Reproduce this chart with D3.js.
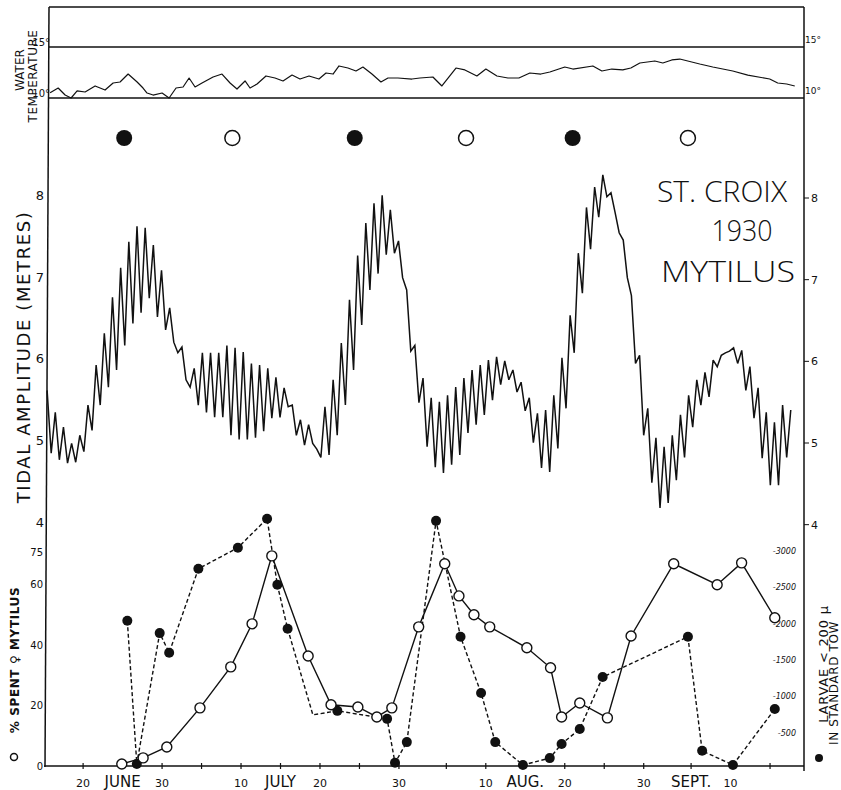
<!DOCTYPE html>
<html><head><meta charset="utf-8">
<script src="https://cdn.jsdelivr.net/npm/d3@7"></script>
<style>
body{margin:0;background:#fff}
svg{display:block}
text{font-family:"DejaVu Sans","Liberation Sans",sans-serif;fill:#111}
</style>
</head><body>
<svg id="c" width="841" height="790"></svg>
<script>
// ---------- DATA (days counted from 31 May 1930: June d = d, July d = 30+d, Aug d = 61+d, Sept d = 92+d)
const tempDay=[15.82,16.84,17.72,18.48,19.24,20.25,21.52,22.78,23.80,24.68,25.70,26.84,27.59,28.10,28.86,30.00,30.89,31.77,32.66,33.42,34.18,35.06,36.46,37.59,38.61,39.49,40.51,41.14,42.03,43.16,44.30,45.32,46.46,47.47,48.61,49.87,50.76,51.65,52.41,53.54,54.56,55.44,56.58,57.72,58.61,59.87,61.65,62.66,64.30,65.44,67.22,68.35,69.87,71.01,72.41,73.80,75.19,76.58,77.97,79.11,81.01,82.03,84.56,85.70,86.96,88.35,89.37,90.51,92.41,93.42,94.56,95.57,96.58,98.10,99.75,102.28,104.18,106.96,107.97,109.11,110.13];
const tempC=[10.52,10.98,10.29,10.00,10.69,10.59,11.18,10.78,11.47,11.57,12.35,11.57,10.98,10.49,10.29,10.49,10.00,10.98,11.08,11.96,11.08,11.47,12.06,12.35,11.47,10.88,11.67,10.98,11.37,12.16,11.96,11.67,12.25,11.86,12.16,11.86,12.45,12.35,13.14,12.94,12.65,13.04,12.35,11.57,11.96,11.96,11.86,11.96,12.06,11.18,12.94,12.75,12.16,12.84,12.16,11.96,11.96,12.45,12.35,12.55,13.04,12.84,13.14,12.65,12.84,12.75,12.94,13.43,13.63,13.43,13.73,13.82,13.63,13.33,13.04,12.65,12.25,11.86,11.47,11.37,11.18];

// tidal amplitude, one value per tide (every half lunar day)
const tideStartDay=15.44;
const tideStepDays=0.5175;
const tideHeight=[5.62,4.85,5.35,4.77,5.17,4.73,4.97,4.74,5.07,4.87,
5.44,5.13,5.93,5.44,6.32,5.66,6.76,5.87,7.12,6.17,
7.44,6.44,7.63,6.57,7.61,6.75,7.40,6.52,7.09,6.36,
6.63,6.21,6.08,6.15,5.75,5.66,5.89,5.44,6.08,5.35,
6.08,5.29,6.08,5.29,6.17,5.07,6.14,5.02,6.09,5.02,
5.95,5.04,5.93,5.12,5.89,5.28,5.78,5.29,5.65,5.42,
5.44,5.07,5.26,4.95,5.20,4.97,4.90,4.80,5.42,4.83,
5.75,5.07,6.20,5.44,6.73,5.87,7.27,6.42,7.67,6.85,
7.91,7.05,8.01,7.28,7.83,7.30,7.45,7.00,6.85,6.10,
6.17,5.47,5.77,4.93,5.53,4.68,5.48,4.61,5.56,4.71,
5.66,4.83,5.77,5.10,5.87,5.20,5.93,5.32,5.99,5.50,
6.03,5.69,5.98,5.75,5.87,5.60,5.72,5.37,5.53,4.98,
5.34,4.67,5.38,4.62,5.56,4.91,6.02,5.40,6.54,6.08,
7.30,6.81,7.86,7.35,8.11,7.74,8.26,7.99,8.04,7.80,
7.55,7.46,7.00,6.78,5.95,6.05,5.07,5.40,4.49,5.04,
4.18,4.93,4.24,5.07,4.52,5.32,4.80,5.56,5.17,5.75,
5.44,5.84,5.54,5.99,5.91,6.05,6.08,6.10,6.14,5.95,
6.11,5.62,5.91,5.28,5.65,4.79,5.35,4.46,5.23,4.46,
5.44,4.80,5.38];

const newMoonDay=[25.2,54.4,82.0];
const fullMoonDay=[38.9,68.5,96.6];

const spentDay=[24.9,27.6,30.6,34.8,38.7,41.4,43.9,48.5,51.4,54.8,57.2,59.1,62.5,65.8,67.6,69.5,71.5,76.2,79.2,80.6,82.9,86.4,89.4,94.8,100.3,103.4,107.6];
const spentPct=[1.0,3.0,6.6,19.5,33.0,47.2,69.6,36.6,20.5,19.8,16.5,19.5,46.2,67.0,56.4,50.2,46.2,39.3,32.7,16.5,21.1,16.2,43.2,67.0,60.1,67.3,49.2];

const larvaeDay=[25.6,26.8,29.7,30.9,34.6,39.6,43.3,44.6,45.9,49.1,52.2,58.5,59.5,61.0,64.7,67.8,70.4,72.2,75.7,79.1,80.6,82.9,85.8,96.6,98.4,102.3,107.6];
const larvaeCount=[2040,70,1870,1600,2755,3045,3445,2535,1930,745,800,690,85,370,3415,1820,1045,370,55,150,345,550,1265,1820,250,55,825];
const larvaeUnmarkedDay=[49.1];

const xTickDay=[20,25,30,35,40,45,50,55,60,66,71,76,81,86,91,97,102,107];
const xTickLabel=["20","JUNE","30","","10","JULY","20","","30","","10","AUG.","20","","30","SEPT.","10",""];
const tempTicks=[10,15];
const tideTicks=[4,5,6,7,8];
const pctTickValues=[0,20,40,60,70.5];
const pctTickLabels=["0","20","40","60","75"];
const larvaeTicks=[500,1000,1500,2000,2500,3000];

// ---------- SCALES
const L=47,R=804;
const x=d3.scaleLinear().domain([15.3,111.3]).range([46,804]);
const yT=d3.scaleLinear().domain([10,15]).range([98,47]);
const yH=d3.scaleLinear().domain([5,8]).range([441,196]);
const yP=d3.scaleLinear().domain([0,60]).range([767,585]);
const yLv=d3.scaleLinear().domain([0,3000]).range([769,551]);

const svg=d3.select("#c");
const ink="#111";

// ---------- FRAME
const frame=svg.append("g").attr("stroke",ink).attr("fill","none");
frame.append("line").attr("x1",L+2).attr("x2",R).attr("y1",7).attr("y2",7).attr("stroke-width",1.3);
tempTicks.forEach(t=>frame.append("line").attr("x1",L+2).attr("x2",R).attr("y1",yT(t)).attr("y2",yT(t)).attr("stroke-width",1.4));
frame.append("line").attr("x1",L+2).attr("x2",L-2).attr("y1",7).attr("y2",767).attr("stroke-width",1.5);
frame.append("line").attr("x1",R).attr("x2",R).attr("y1",7).attr("y2",771).attr("stroke-width",1.5);
frame.append("line").attr("x1",L-3).attr("x2",R).attr("y1",766).attr("y2",766).attr("stroke-width",1.4);

// x ticks
xTickDay.forEach(d=>frame.append("line").attr("x1",x(d)).attr("x2",x(d)).attr("y1",763).attr("y2",769).attr("stroke-width",1.2));
const xl=svg.append("g");
xTickDay.forEach((d,i)=>{
  const lab=xTickLabel[i]; if(!lab) return;
  const isMonth=isNaN(+lab);
  xl.append("text").attr("x",x(d)).attr("y",787).attr("text-anchor","middle")
    .attr("font-size",isMonth?15:11).text(lab);
});

// temperature tick labels
[[15,"15°"],[10,"10°"]].forEach(([t,s])=>{
  svg.append("text").attr("x",L+3).attr("y",yT(t)-1).attr("text-anchor","end").attr("font-size",10).text(s);
  svg.append("text").attr("x",R+1).attr("y",yT(t)-4).attr("font-size",9).text(s);
});

// tidal tick labels
tideTicks.forEach(t=>{
  svg.append("text").attr("x",L-3).attr("y",yH(t)+4).attr("text-anchor","end").attr("font-size",13).text(t);
  svg.append("line").attr("x1",R).attr("x2",R+5).attr("y1",yH(t)+2).attr("y2",yH(t)+2).attr("stroke",ink).attr("stroke-width",1);
  svg.append("text").attr("x",R+7).attr("y",yH(t)+6).attr("font-size",11).text(t);
});

// % tick labels
pctTickValues.forEach((v,i)=>{
  svg.append("text").attr("x",L-4).attr("y",yP(v)+3).attr("text-anchor","end").attr("font-size",10).text(pctTickLabels[i]);
});
// larvae tick labels (inside right axis)
larvaeTicks.forEach(v=>{
  svg.append("text").attr("x",R-8).attr("y",yLv(v)+3).attr("text-anchor","end").attr("font-size",8).attr("font-style","italic").text("-"+v);
});

// ---------- WATER TEMPERATURE
svg.append("path").datum(tempDay.map((d,i)=>[d,tempC[i]]))
  .attr("fill","none").attr("stroke",ink).attr("stroke-width",1.2).attr("stroke-linejoin","round")
  .attr("d",d3.line().x(p=>x(p[0])).y(p=>yT(p[1])));

// ---------- MOON PHASES
newMoonDay.forEach(d=>svg.append("circle").attr("cx",x(d)).attr("cy",138).attr("r",8).attr("fill",ink));
fullMoonDay.forEach(d=>svg.append("circle").attr("cx",x(d)).attr("cy",138).attr("r",7.5).attr("fill","#fff").attr("stroke",ink).attr("stroke-width",1.5));

// ---------- TIDAL AMPLITUDE
svg.append("path").datum(tideHeight.map((h,i)=>[tideStartDay+i*tideStepDays,h]))
  .attr("fill","none").attr("stroke",ink).attr("stroke-width",1.5).attr("stroke-linejoin","miter").attr("stroke-miterlimit",3)
  .attr("d",d3.line().x(p=>x(p[0])).y(p=>yH(p[1])));

// ---------- LARVAE (dashed, filled dots)
const lv=larvaeDay.map((d,i)=>[d,larvaeCount[i]]);
svg.append("path").datum(lv).attr("fill","none").attr("stroke",ink).attr("stroke-width",1.4)
  .attr("stroke-dasharray","4,2.5").attr("d",d3.line().x(p=>x(p[0])).y(p=>yLv(p[1])));

// ---------- SPENT (solid, open circles)
const sp=spentDay.map((d,i)=>[d,spentPct[i]]);
svg.append("path").datum(sp).attr("fill","none").attr("stroke",ink).attr("stroke-width",1.4)
  .attr("d",d3.line().x(p=>x(p[0])).y(p=>yP(p[1])));

svg.append("g").selectAll("circle").data(lv.filter(p=>!larvaeUnmarkedDay.includes(p[0]))).join("circle")
  .attr("cx",p=>x(p[0])).attr("cy",p=>yLv(p[1])).attr("r",5).attr("fill",ink);
svg.append("g").selectAll("circle").data(sp).join("circle")
  .attr("cx",p=>x(p[0])).attr("cy",p=>yP(p[1])).attr("r",5).attr("fill","#fff").attr("stroke",ink).attr("stroke-width",1.4);

// ---------- TITLE
const title=[["ST. CROIX",722,202,130],["1930",742,241,61],["MYTILUS",728,282,134]];
title.forEach(([s,cx,cy,w])=>{
  svg.append("text").attr("x",cx-w/2).attr("y",cy)
    .attr("textLength",w).attr("lengthAdjust","spacingAndGlyphs")
    .style("font-family","'Open Sans','Lato',sans-serif").style("font-weight",300).style("font-size","30px").text(s);
});

// ---------- AXIS TITLES (rotated)
function vtext(s,cx,cy,size,spacing,weight){
  const g=svg.append("g").attr("transform",`translate(${cx},${cy}) rotate(-90)`);
  return g.append("text").attr("x",0).attr("y",0)
    .attr("text-anchor","middle").attr("dy","0.35em")
    .style("font-size",size+"px").style("letter-spacing",spacing+"px")
    .style("font-weight",weight||"normal").text(s);
}
vtext("WATER",20,70,12,0);
vtext("TEMPERATURE",33,76,12,0.5);
vtext("TIDAL   AMPLITUDE    (METRES)",24,357,18,1.6);
vtext("% SPENT ♀ MYTILUS",15,660,12,0.6,"bold");
svg.append("circle").attr("cx",14).attr("cy",757).attr("r",3.5).attr("fill","none").attr("stroke",ink).attr("stroke-width",1.5);
vtext("LARVAE  < 200 µ",823,664,13,0.8);
vtext("IN STANDARD TOW",834,683,12,0.6);
svg.append("circle").attr("cx",819).attr("cy",758).attr("r",4).attr("fill",ink);
</script>
</body></html>
